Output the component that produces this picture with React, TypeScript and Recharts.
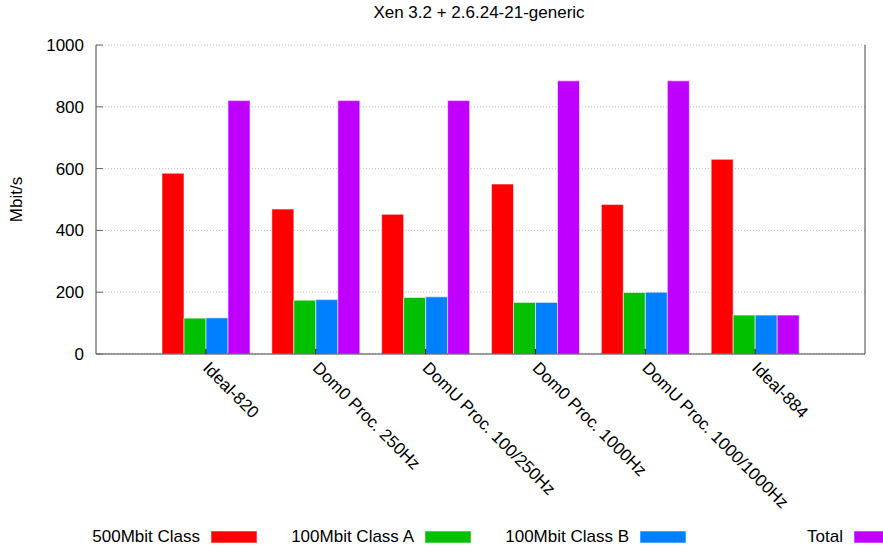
import React from 'react';
import { BarChart, Bar, XAxis, YAxis, CartesianGrid } from 'recharts';

const categories = ['Ideal-820', 'Dom0 Proc. 250Hz', 'DomU Proc. 100/250Hz', 'Dom0 Proc. 1000Hz', 'DomU Proc. 1000/1000Hz', 'Ideal-884'];
const class500 = [585, 469, 452, 550, 484, 630];
const classA = [116, 174, 183, 167, 199, 126];
const classB = [117, 176, 185, 167, 200, 126];
const total = [820, 820, 820, 884, 884, 126];
const yTicks = [0, 200, 400, 600, 800, 1000];
const seriesNames = ['500Mbit Class', '100Mbit Class A', '100Mbit Class B', 'Total'];
const seriesKeys = ['c500', 'cA', 'cB', 'tot'];
const seriesColors = ['#ff0000', '#00c000', '#0080ff', '#c000ff'];
const title = 'Xen 3.2 + 2.6.24-21-generic';
const yLabel = 'Mbit/s';

const data = categories.map((name, i) => ({
  name,
  c500: class500[i],
  cA: classA[i],
  cB: classB[i],
  tot: total[i],
}));

const FONT = '"Liberation Sans", Arial, Helvetica, sans-serif';
const FS = 17;

const XTick = (props: any) => {
  const { x, y, payload } = props;
  const bx = x - 4;
  const by = y + 15;
  return (
    <g>
      <line x1={x} y1={y} x2={x} y2={y - 5} stroke="#000" strokeWidth={1} />
      <text x={bx} y={by} transform={`rotate(45 ${bx} ${by})`} textAnchor="start" fontSize={FS} fontFamily={FONT} fill="#000">
        {payload.value}
      </text>
    </g>
  );
};

const YLabel = (props: any) => {
  const vb = props.viewBox || {};
  const cx = (vb.x || 0) + 16;
  const cy = (vb.y || 0) + (vb.height || 0) / 2;
  return (
    <text x={cx} y={cy} transform={`rotate(-90 ${cx} ${cy})`} textAnchor="middle" dominantBaseline="central" fontSize={FS} fontFamily={FONT} fill="#000">
      {yLabel}
    </text>
  );
};

const legendSwatchX = [211, 425, 640, 854];

export default function App() {
  return (
    <div style={{ position: 'absolute', left: 0, top: 0, width: 883, height: 546, background: '#fff', overflow: 'hidden', fontFamily: FONT }}>
      <div style={{ position: 'absolute', left: 0, width: 958, top: 3, textAlign: 'center', fontSize: FS, color: '#000', lineHeight: '20px' }}>{title}</div>
      <BarChart
        width={883}
        height={546}
        data={data}
        margin={{ top: 45, right: 0, left: 0, bottom: 0 }}
        barGap={0}
        barSize={22}
      >
        <CartesianGrid yAxisId="left" vertical={false} stroke="#bbbbbb" strokeDasharray="1 2" />
        <XAxis
          dataKey="name"
          xAxisId="bottom"
          orientation="bottom"
          height={192}
          padding={{ left: 55, right: 55 }}
          interval={0}
          tickSize={0}
          tickMargin={0}
          tickLine={false}
          tick={<XTick />}
          axisLine={{ stroke: '#444', strokeWidth: 1 }}
        />
        <XAxis
          dataKey="name"
          xAxisId="top"
          orientation="top"
          height={0}
          padding={{ left: 55, right: 55 }}
          tick={false}
          tickLine={false}
          axisLine={{ stroke: '#444', strokeWidth: 1 }}
        />
        <YAxis
          yAxisId="left"
          width={96}
          domain={[0, 1000]}
          ticks={yTicks}
          interval={0}
          tickSize={-7}
          tickMargin={19}
          tick={{ fontSize: FS, fontFamily: FONT, fill: '#000' }}
          tickLine={{ stroke: '#666' }}
          axisLine={{ stroke: '#444', strokeWidth: 1 }}
          label={{ content: <YLabel /> }}
        />
        <YAxis
          yAxisId="right"
          orientation="right"
          width={18}
          domain={[0, 1000]}
          ticks={yTicks}
          interval={0}
          tickSize={-7}
          tickFormatter={() => ''}
          tickLine={{ stroke: '#666' }}
          axisLine={{ stroke: '#444', strokeWidth: 1 }}
        />
        {seriesKeys.map((k, i) => (
          <Bar
            key={k}
            dataKey={k}
            name={seriesNames[i]}
            xAxisId="bottom"
            yAxisId="left"
            fill={seriesColors[i]}
            stroke="rgba(255,255,255,0.55)"
            strokeWidth={1}
            isAnimationActive={false}
          />
        ))}
      </BarChart>
      <svg width={883} height={30} style={{ position: 'absolute', left: 0, top: 522 }}>
        {seriesNames.map((n, i) => (
          <g key={n}>
            <text x={legendSwatchX[i] - 11} y={20} textAnchor="end" fontSize={FS} fontFamily={FONT} fill="#000">{n}</text>
            <rect x={legendSwatchX[i]} y={9} width={46} height={12} fill={seriesColors[i]} stroke="rgba(255,255,255,0.55)" strokeWidth={1} />
          </g>
        ))}
      </svg>
    </div>
  );
}
